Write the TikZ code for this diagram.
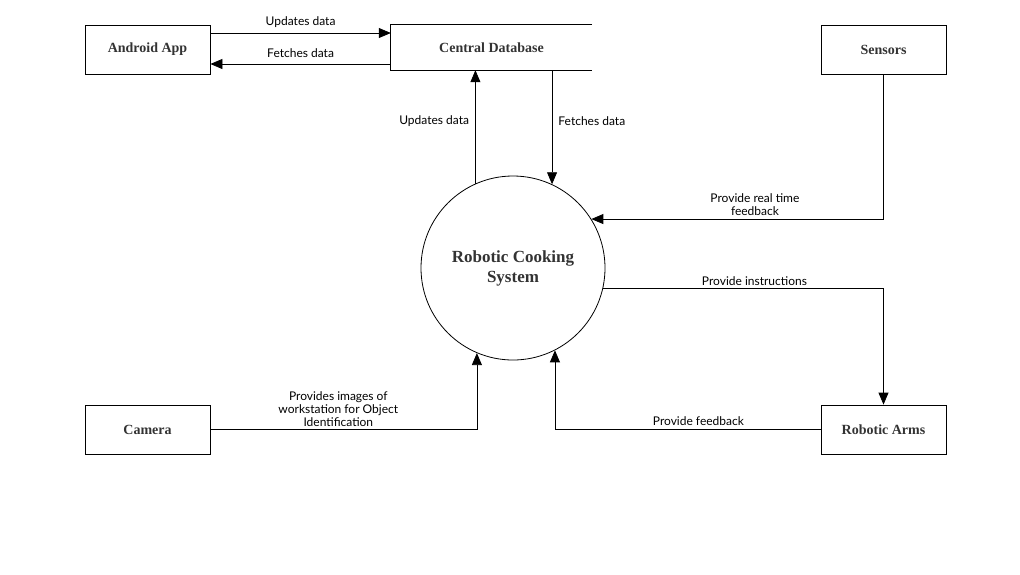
\documentclass[tikz,border=0pt]{standalone}
\usepackage{fontspec}
\setmainfont{Lato}
\newfontfamily\boxfont{Liberation Serif}
\usetikzlibrary{arrows.meta, calc, positioning}
\definecolor{dfdText}{HTML}{333333}
\tikzset{
  flow/.style      = {-{Triangle[length=12pt,width=10pt]}, line width=0.8pt, black},
  entity/.style    = {draw, line width=0.8pt, minimum width=125pt, minimum height=49pt,
                      font=\boxfont\bfseries\fontsize{14}{16}\selectfont, text=dfdText},
  store/.style     = {minimum width=201pt, minimum height=45pt,
                      font=\boxfont\bfseries\fontsize{14}{16}\selectfont, text=dfdText},
  process/.style   = {draw, circle, line width=0.8pt, minimum size=184pt, align=center,
                      font=\boxfont\bfseries\fontsize{17}{20}\selectfont, text=dfdText},
  lbl/.style       = {font=\fontsize{12}{13}\selectfont, align=center, inner sep=1pt},
}

\begin{document}
\begin{tikzpicture}[x=1pt,y=-1pt]
  \useasboundingbox (0,0) rectangle (1020,574);
  \node[entity] (app) at (147.5,49.5) {Android App};
  \node[store] (db) at (491.5,47.5) {Central Database};
  \draw[line width=0.8pt] (db.north east) -- (db.north west) -- (db.south west) -- (db.south east);
  \node[entity] (sen) at (883.5,49.5) {Sensors};
  \node[entity] (cam) at (147.5,429.5) {Camera};
  \node[entity] (arms) at (883.5,429.5) {Robotic Arms};
  \node[process] (sys) at (513,268) {Robotic Cooking\\System};

  \draw[flow] ([yshift=16.5pt]app.east) -- ([yshift=16.5pt]app.east -| db.west)
    node[lbl, midway, above=4pt] {Updates data};
  \draw[flow] ([yshift=-16.5pt]db.west) -- ([yshift=-16.5pt]db.west -| app.east)
    node[lbl, midway, above=5pt] {Fetches data};
  \draw[flow] (sys.114.4) -- (sys.114.4 |- db.south)
    node[lbl, pos=0.55, left=5pt] {Updates data};
  \draw[flow] (sys.65.6 |- db.south) -- (sys.65.6)
    node[lbl, pos=0.45, right=5pt] {Fetches data};
  \draw[flow] (sen.south) |- (sys.32.2)
    node[lbl, pos=0.72, above=2pt] {Provide real time\\feedback};
  \draw[flow] (sys.-13.2) -| (arms.north)
    node[lbl, pos=0.27, above=2pt] {Provide instructions};
  \draw[flow] (arms.west) -| (sys.-63.5)
    node[lbl, pos=0.23, above=3pt] {Provide feedback};
  \draw[flow] (cam.east) -| (sys.-113)
    node[lbl, pos=0.24, above=2pt] {Provides images of\\workstation for Object\\Identification};
\end{tikzpicture}
\end{document}
